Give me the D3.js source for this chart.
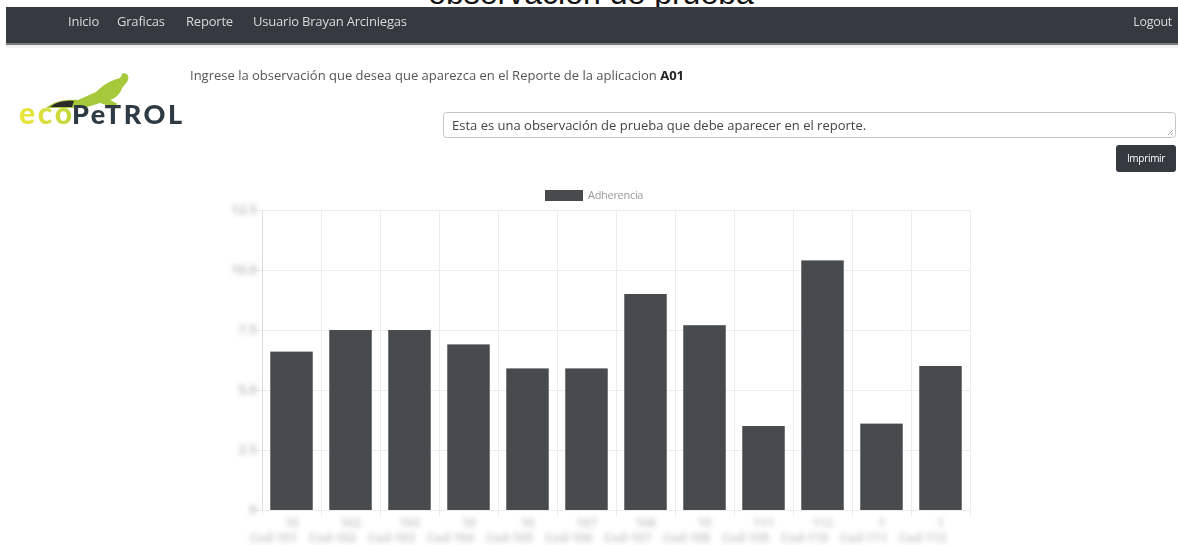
<!DOCTYPE html>
<html><head><meta charset="utf-8">
<script src="https://cdn.jsdelivr.net/npm/d3@7"></script>
<style>html,body{margin:0;padding:0;background:#fff;}svg{display:block;}</style>
</head><body>
<script>
const categories = ["C01","C02","C03","C04","C05","C06","C07","C08","C09","C10","C11","C12"];
const labelLine1 = ["10","102","103","10","10","107","108","10","111","112","1","1"];
const labelLine2 = ["Cod-101","Cod-102","Cod-103","Cod-104","Cod-105","Cod-106","Cod-107","Cod-108","Cod-109","Cod-110","Cod-111","Cod-112"];
const adherencia = [6.6, 7.5, 7.5, 6.9, 5.9, 5.9, 9.0, 7.7, 3.5, 10.4, 3.6, 6.0];
const yTicks = [0, 2.5, 5, 7.5, 10, 12.5];
const yTickLabels = ["0", "2.5", "5.0", "7.5", "10.0", "12.5"];
const navItems = ["Inicio", "Graficas", "Reporte", "Usuario Brayan Arciniegas"];
const navX = [68, 117, 186, 253];

(function () {
const W = 1178, H = 545;
const svg = d3.select("body").append("svg").attr("width", W).attr("height", H);
const defs = svg.append("defs");
defs.append("filter").attr("id", "blur").attr("filterUnits", "userSpaceOnUse")
  .attr("x", 0).attr("y", 0).attr("width", W).attr("height", H)
  .append("feGaussianBlur").attr("stdDeviation", 2.8);
defs.append("filter").attr("id", "soft").attr("filterUnits", "userSpaceOnUse")
  .attr("x", 0).attr("y", 0).attr("width", W).attr("height", H)
  .append("feGaussianBlur").attr("stdDeviation", 0.45);
const grad = defs.append("linearGradient").attr("id", "ecoGrad").attr("x1", "0").attr("x2", "1");
grad.append("stop").attr("offset", "0").attr("stop-color", "#ece63c");
grad.append("stop").attr("offset", "1").attr("stop-color", "#c2d63c");

// Figure title (cut at top, as in the reference)
svg.append("text").attr("x", 591).attr("y", 4).attr("text-anchor", "middle")
  .attr("font-family", "Liberation Sans, Arial, sans-serif").attr("font-size", 32).attr("fill", "#111")
  .text("observación de prueba");

// Navbar
svg.append("rect").attr("x", 6).attr("y", 7).attr("width", W - 6).attr("height", 37).attr("fill", "#343a40");
svg.append("rect").attr("x", 6).attr("y", 43).attr("width", W - 6).attr("height", 2).attr("fill", "#7a7d80");
svg.append("rect").attr("x", 6).attr("y", 45).attr("width", W - 6).attr("height", 3).attr("fill", "#f2f2f2");
const navG = svg.append("g").attr("filter", "url(#soft)");
navG.selectAll("text.nav").data(navItems).join("text").attr("class", "nav")
  .attr("x", (d, i) => navX[i]).attr("y", 26)
  .attr("font-family", "Open Sans, sans-serif").attr("font-size", 13).attr("letter-spacing", -0.2)
  .attr("fill", "#d8d9db").text(d => d);
navG.append("text").attr("x", 1172).attr("y", 26).attr("text-anchor", "end")
  .attr("font-family", "Open Sans, sans-serif").attr("font-size", 12.5).attr("letter-spacing", -0.3)
  .attr("fill", "#d8d9db").text("Logout");

// Logo
const logo = svg.append("g").attr("filter", "url(#soft)");
logo.append("path").attr("d", "M46,108 C54,101 66,99 78,100 L96,92 C104,84 112,80 120,78 L123,73 C128,73 130,77 127,82 L122,88 C120,94 116,98 110,100 L118,104 L112,107 L100,103 L84,108 Z")
  .attr("fill", "#a6c83a");
logo.append("path").attr("d", "M50,107 C56,102 64,100 74,101 L72,107 Z").attr("fill", "#2b2b2b");
logo.append("text").attr("x", 19).attr("y", 124).attr("font-family", "Lato, sans-serif").attr("font-weight", 900)
  .attr("font-size", 30).attr("textLength", 53).attr("fill", "url(#ecoGrad)").text("eco");
logo.append("text").attr("x", 72).attr("y", 124).attr("font-family", "Lato, sans-serif").attr("font-weight", 900)
  .attr("font-size", 27).attr("textLength", 110).attr("fill", "#2d3a45").text("PeTROL");

// Instruction
const instr = svg.append("text").attr("x", 190).attr("y", 80).attr("font-family", "Open Sans, sans-serif")
  .attr("font-size", 13).attr("fill", "#555").attr("filter", "url(#soft)");
instr.append("tspan").text("Ingrese la observación que desea que aparezca en el Reporte de la aplicacion ");
instr.append("tspan").attr("font-weight", "bold").attr("fill", "#222").text("A01");

// Textarea
svg.append("rect").attr("x", 443.5).attr("y", 112.5).attr("width", 732).attr("height", 25).attr("rx", 3)
  .attr("fill", "#fff").attr("stroke", "#c4c4c4");
svg.append("path").attr("d", "M1168,135 L1173,130 M1171,135 L1173,133").attr("stroke", "#aaa");
svg.append("text").attr("x", 452).attr("y", 129.5).attr("font-family", "Open Sans, sans-serif")
  .attr("font-size", 13).attr("fill", "#444").attr("filter", "url(#soft)")
  .text("Esta es una observación de prueba que debe aparecer en el reporte.");

// Button
svg.append("rect").attr("x", 1116).attr("y", 145).attr("width", 60).attr("height", 27).attr("rx", 3).attr("fill", "#343a40");
svg.append("text").attr("x", 1146).attr("y", 162).attr("text-anchor", "middle").attr("font-family", "Open Sans, sans-serif")
  .attr("font-size", 10).attr("letter-spacing", -0.3).attr("fill", "#fff").attr("filter", "url(#soft)").text("Imprimir");

// Chart
const pLeft = 262, pRight = 970, pTop = 210, pBottom = 510;
const x = d3.scaleBand().domain(categories).range([pLeft, pRight]).paddingInner(0.28).paddingOuter(0.14);
const xGrid = d3.scaleBand().domain(categories).range([pLeft, pRight]);
const y = d3.scaleLinear().domain([0, 12.5]).range([pBottom, pTop]);

const grid = svg.append("g").attr("stroke", "#ececec").attr("stroke-width", 1);
grid.selectAll("line.h").data(yTicks).join("line").attr("class", "h")
  .attr("x1", pLeft - 6).attr("x2", pRight).attr("y1", d => Math.round(y(d)) + 0.5).attr("y2", d => Math.round(y(d)) + 0.5);
grid.selectAll("line.v").data(categories.concat(["end"])).join("line").attr("class", "v")
  .attr("x1", (d, i) => Math.round(i < categories.length ? xGrid(d) : pRight) + 0.5)
  .attr("x2", (d, i) => Math.round(i < categories.length ? xGrid(d) : pRight) + 0.5)
  .attr("y1", pTop).attr("y2", pBottom + 6);
svg.append("line").attr("x1", pLeft + 0.5).attr("x2", pLeft + 0.5).attr("y1", pTop).attr("y2", pBottom)
  .attr("stroke", "#dcdcdc");

svg.append("g").selectAll("rect").data(adherencia).join("rect")
  .attr("x", (d, i) => x(categories[i])).attr("width", x.bandwidth())
  .attr("y", d => y(d)).attr("height", d => pBottom - y(d)).attr("fill", "#484b4e");

// Y labels (blurred as in the reference)
svg.append("g").attr("filter", "url(#blur)").selectAll("text").data(yTicks).join("text")
  .attr("x", 257).attr("y", d => y(d) + 4).attr("text-anchor", "end")
  .attr("font-family", "Open Sans, sans-serif").attr("font-size", 13).attr("font-weight", "bold").attr("fill", "#c4c4c4")
  .text((d, i) => yTickLabels[i]);

// X labels (blurred)
const xl = svg.append("g").attr("filter", "url(#blur)").attr("font-family", "Open Sans, sans-serif")
  .attr("font-size", 12).attr("font-weight", "bold").attr("fill", "#cdcdcd").attr("text-anchor", "middle");
xl.selectAll("text.l1").data(categories).join("text").attr("class", "l1")
  .attr("x", d => xGrid(d) + xGrid.bandwidth() / 2).attr("y", 527).text((d, i) => labelLine1[i]);
xl.selectAll("text.l2").data(categories).join("text").attr("class", "l2")
  .attr("x", d => xGrid(d) + xGrid.bandwidth() / 2 - 18).attr("y", 542).text((d, i) => labelLine2[i]);

// Legend
svg.append("rect").attr("x", 545).attr("y", 190).attr("width", 38).attr("height", 11).attr("fill", "#484b4e");
svg.append("text").attr("x", 588).attr("y", 199).attr("font-family", "Open Sans, sans-serif")
  .attr("font-size", 11).attr("letter-spacing", -0.3).attr("fill", "#9a9a9a").attr("filter", "url(#soft)").text("Adherencia");
})();
</script>
</body></html>
